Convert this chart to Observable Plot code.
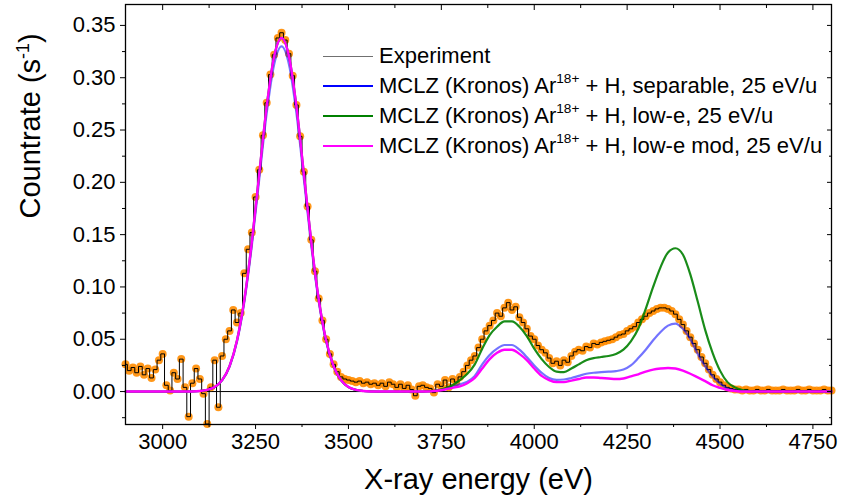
<!DOCTYPE html>
<html><head><meta charset="utf-8">
<script src="https://cdn.jsdelivr.net/npm/d3@7"></script>
<script src="https://cdn.jsdelivr.net/npm/@observablehq/plot@0.6"></script>
<style>
body{margin:0;background:#fff;}
#wrap{position:relative;width:841px;height:501px;font-family:Arial,"Liberation Sans",sans-serif;color:#000;}
#legend{position:absolute;left:323px;top:41px;font-size:22px;}
#legend .row{height:30px;display:flex;align-items:center;white-space:nowrap;}
#legend .sw{width:50px;height:0;margin-right:6px;}
#legend sup{font-size:0.62em;line-height:0;position:relative;top:-0.1em;}
</style></head>
<body><div id="wrap"></div>
<script>
// Experiment: energies every 10 eV from 2900 to 4800
const expEnergy = d3.range(2900, 4801, 10);
const expCount = [
  0.026, 0.020, 0.023, 0.018, 0.024, 0.016, 0.022, 0.013, 0.021, 0.030,
  0.036, 0.006, 0.001, 0.018, 0.012, 0.031, 0.004, -0.024, 0.008, 0.022,
  0.012, -0.002, -0.031, 0.004, 0.030, -0.015, 0.034, 0.050, 0.058, 0.078,
  0.066, 0.075, 0.113, 0.136, 0.152, 0.186, 0.212, 0.245, 0.276, 0.303,
  0.322, 0.338, 0.343, 0.336, 0.323, 0.302, 0.274, 0.244, 0.210, 0.177,
  0.145, 0.115, 0.089, 0.068, 0.050, 0.036, 0.026, 0.019, 0.014, 0.012,
  0.011, 0.010, 0.009, 0.010, 0.008, 0.009, 0.007, 0.008, 0.006, 0.008,
  0.005, 0.009, 0.007, 0.004, 0.007, 0.003, 0.006, 0.002, -0.004, 0.005,
  0.006, 0.004, 0.003, -0.001, 0.007, 0.005, 0.011, 0.004, 0.012, 0.009,
  0.014, 0.019, 0.025, 0.030, 0.034, 0.042, 0.050, 0.058, 0.063, 0.068,
  0.075, 0.072, 0.080, 0.085, 0.078, 0.081, 0.071, 0.066, 0.060, 0.053,
  0.050, 0.044, 0.040, 0.037, 0.032, 0.027, 0.029, 0.025, 0.030, 0.028,
  0.034, 0.038, 0.040, 0.039, 0.043, 0.042, 0.046, 0.045, 0.047, 0.048,
  0.049, 0.050, 0.052, 0.054, 0.055, 0.058, 0.060, 0.062, 0.066, 0.069,
  0.072, 0.075, 0.077, 0.079, 0.080, 0.080, 0.079, 0.077, 0.074, 0.069,
  0.064, 0.058, 0.052, 0.046, 0.040, 0.033, 0.027, 0.021, 0.016, 0.012,
  0.009, 0.006, 0.004, 0.003, 0.002, 0.002, 0.001, 0.002, 0.001, 0.001,
  0.002, 0.001, 0.001, 0.002, 0.001, 0.001, 0.001, 0.002, 0.001, 0.001,
  0.001, 0.002, 0.001, 0.001, 0.002, 0.001, 0.001, 0.001, 0.002, 0.001,
  0.001
];

// Models: energies every 20 eV from 2900 to 4800
const modelEnergy = d3.range(2900, 4801, 20);
const separable = [
  0, 0, 0, 0, 0,
  0, 0, 0, 0, 0.0001,
  0.0005, 0.0015, 0.0042, 0.0106, 0.0237,
  0.0476, 0.0861, 0.1396, 0.2034, 0.2661,
  0.3127, 0.330, 0.3127, 0.2661, 0.2034,
  0.1396, 0.0861, 0.0476, 0.0237, 0.0106,
  0.0042, 0.0015, 0.0005, 0.0001, 0,
  0, 0, 0, 0, 0,
  0, 0.0003, 0.001, 0.0025, 0.0045,
  0.007, 0.0095, 0.015, 0.026, 0.035,
  0.041, 0.0445, 0.0445, 0.040, 0.033,
  0.025, 0.018, 0.013, 0.0112, 0.0115,
  0.013, 0.015, 0.017, 0.018, 0.0185,
  0.019, 0.0195, 0.021, 0.025, 0.032,
  0.040, 0.049, 0.057, 0.063, 0.065,
  0.060, 0.050, 0.036, 0.024, 0.0145,
  0.0075, 0.003, 0.0012, 0.0004, 0,
  0, 0, 0, 0, 0,
  0, 0, 0, 0, 0,
  0
];
const lowE = [
  0, 0, 0, 0, 0,
  0, 0, 0, 0, 0.0001,
  0.0005, 0.0016, 0.0043, 0.0109, 0.0243,
  0.0488, 0.0882, 0.1430, 0.2084, 0.2726,
  0.3203, 0.338, 0.3203, 0.2726, 0.2084,
  0.1430, 0.0882, 0.0488, 0.0243, 0.0109,
  0.0043, 0.0016, 0.0005, 0.0001, 0,
  0, 0, 0, 0, 0,
  0, 0.0004, 0.0012, 0.003, 0.006,
  0.011, 0.017, 0.026, 0.041, 0.054,
  0.062, 0.067, 0.067, 0.062, 0.053,
  0.041, 0.031, 0.0235, 0.019, 0.0185,
  0.022, 0.026, 0.030, 0.032, 0.033,
  0.034, 0.036, 0.040, 0.048, 0.060,
  0.079, 0.100, 0.119, 0.133, 0.137,
  0.131, 0.112, 0.086, 0.059, 0.037,
  0.020, 0.009, 0.004, 0.0015, 0.0005,
  0, 0, 0, 0, 0,
  0, 0, 0, 0, 0,
  0
];
const lowEMod = [
  0, 0, 0, 0, 0,
  0, 0, 0, 0, 0.0001,
  0.0005, 0.0016, 0.0043, 0.0109, 0.0243,
  0.0488, 0.0882, 0.1430, 0.2084, 0.2726,
  0.3203, 0.338, 0.3203, 0.2726, 0.2084,
  0.1430, 0.0882, 0.0488, 0.0243, 0.0109,
  0.0043, 0.0016, 0.0005, 0.0001, 0,
  0, 0, 0, 0, 0,
  0, 0.0002, 0.0008, 0.002, 0.0035,
  0.005, 0.008, 0.013, 0.022, 0.031,
  0.037, 0.040, 0.040, 0.036, 0.030,
  0.022, 0.015, 0.011, 0.009, 0.009,
  0.0105, 0.012, 0.0135, 0.0135, 0.013,
  0.0125, 0.012, 0.0125, 0.0145, 0.0165,
  0.019, 0.021, 0.022, 0.0225, 0.022,
  0.020, 0.017, 0.0135, 0.010, 0.006,
  0.0035, 0.0015, 0.0005, 0, 0,
  0, 0, 0, 0, 0,
  0, 0, 0, 0, 0,
  0
];

const xTicks = [3000, 3250, 3500, 3750, 4000, 4250, 4500, 4750];
const xMinor = [3125, 3375, 3625, 3875, 4125, 4375, 4625];
const yTicks = [0, 0.05, 0.10, 0.15, 0.20, 0.25, 0.30, 0.35];
const yMinor = [-0.025, 0.025, 0.075, 0.125, 0.175, 0.225, 0.275, 0.325];

const seriesNames = ["Experiment",
  "MCLZ (Kronos) Ar18+ + H, separable, 25 eV/u",
  "MCLZ (Kronos) Ar18+ + H, low-e, 25 eV/u",
  "MCLZ (Kronos) Ar18+ + H, low-e mod, 25 eV/u"];
const legendColors = ["#707070", "#0000ff", "#008000", "#ff00ff"];

const exp = expEnergy.map((e, i) => ({e, v: expCount[i]}));
const mk = arr => modelEnergy.map((e, i) => ({e, v: arr[i]}));

const chart = Plot.plot({
  width: 841, height: 501,
  marginLeft: 125, marginRight: 10, marginTop: 4, marginBottom: 77,
  style: {fontFamily: "Arial, 'Liberation Sans', sans-serif", fontSize: "22px", color: "#000", background: "#fff"},
  x: {domain: [2900, 4800]},
  y: {domain: [-0.0315, 0.37]},
  marks: [
    Plot.ruleY([0], {stroke: "#000", strokeWidth: 1}),
    Plot.dot(exp, {x: "e", y: "v", r: 4, fill: "#ff8c00", fillOpacity: 0.9, stroke: "none"}),
    Plot.line(exp, {x: "e", y: "v", curve: "step", stroke: "#000", strokeWidth: 1}),
    Plot.line(mk(separable), {x: "e", y: "v", curve: "monotone-x", stroke: "#0000ff", strokeOpacity: 0.55, strokeWidth: 2.2}),
    Plot.line(mk(lowE), {x: "e", y: "v", curve: "monotone-x", stroke: "#008000", strokeOpacity: 0.9, strokeWidth: 2.2}),
    Plot.line(mk(lowEMod), {x: "e", y: "v", curve: "monotone-x", stroke: "#ff00ff", strokeWidth: 2.4}),
    Plot.frame({stroke: "#000", strokeWidth: 1.3}),
    Plot.axisX({ticks: xTicks, tickSize: 5, tickPadding: 4, tickFormat: d => String(d), label: null, fontSize: 22}),
    Plot.axisX({ticks: xMinor, tickSize: 3, text: null, label: null}),
    Plot.axisX({anchor: "top", ticks: xTicks, tickSize: -5, text: null, label: null}),
    Plot.axisX({anchor: "top", ticks: xMinor, tickSize: -3, text: null, label: null}),
    Plot.axisY({ticks: yTicks, tickSize: 5, tickPadding: 5, tickFormat: d3.format(".2f"), label: null, fontSize: 22}),
    Plot.axisY({ticks: yMinor, tickSize: 3, text: null, label: null}),
    Plot.axisY({anchor: "right", ticks: yTicks, tickSize: -5, text: null, label: null}),
    Plot.axisY({anchor: "right", ticks: yMinor, tickSize: -3, text: null, label: null}),
    Plot.text(["X-ray energy (eV)"], {frameAnchor: "bottom", dy: 64, text: d => d, fontSize: 29, fill: "#000"}),
    Plot.text(["Countrate (s-1)"], {frameAnchor: "left", dx: -95, dy: 4, rotate: -90, text: d => d, fontSize: 29, fill: "#000"})
  ]
});

// superscript in the y title
d3.select(chart).selectAll("text").filter(function() { return this.textContent === "Countrate (s-1)"; })
  .each(function() {
    const t = d3.select(this);
    t.text(null);
    t.append("tspan").text("Countrate (s");
    t.append("tspan").attr("font-size", "0.62em").attr("dy", "-0.6em").text("-1");
    t.append("tspan").attr("dy", "0.37em").text(")");
  });

const wrap = document.getElementById("wrap");
wrap.appendChild(chart);

const legend = document.createElement("div");
legend.id = "legend";
seriesNames.forEach((name, i) => {
  const row = document.createElement("div");
  row.className = "row";
  const sw = document.createElement("span");
  sw.className = "sw";
  sw.style.borderTop = (i === 0 ? "1.5px" : "2.5px") + " solid " + legendColors[i];
  row.appendChild(sw);
  const lab = document.createElement("span");
  lab.innerHTML = name.replace("18+", "<sup>18+</sup>");
  row.appendChild(lab);
  legend.appendChild(row);
});
wrap.appendChild(legend);
</script>
</body></html>
